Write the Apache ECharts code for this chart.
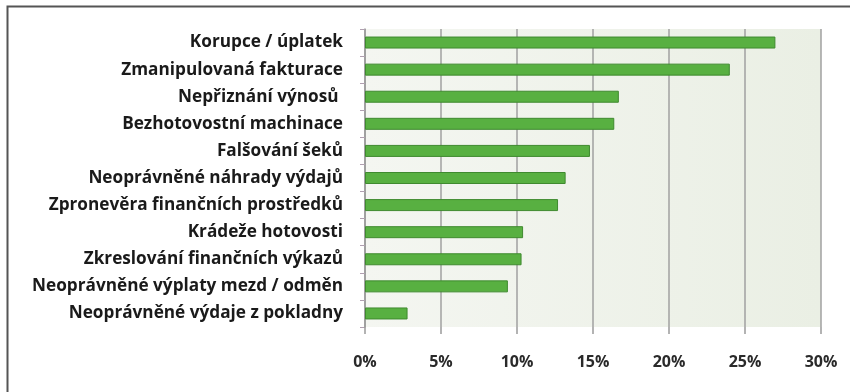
<!DOCTYPE html>
<html><head><meta charset="utf-8">
<script src="https://cdn.jsdelivr.net/npm/echarts@6/dist/echarts.min.js"></script>
<style>html,body{margin:0;padding:0;background:#fff}#c{width:850px;height:392px}</style>
</head><body><div id="c"></div>
<script>
const categories = [
  "Korupce / úplatek",
  "Zmanipulovaná fakturace",
  "Nepřiznání výnosů ",
  "Bezhotovostní machinace",
  "Falšování šeků",
  "Neoprávněné náhrady výdajů",
  "Zpronevěra finančních prostředků",
  "Krádeže hotovosti",
  "Zkreslování finančních výkazů",
  "Neoprávněné výplaty mezd / odměn",
  "Neoprávněné výdaje z pokladny"
];
const values = [27.0, 24.0, 16.7, 16.4, 14.8, 13.2, 12.7, 10.4, 10.3, 9.4, 2.8];
const tickLabels = ["0%", "5%", "10%", "15%", "20%", "25%", "30%"];

const chart = echarts.init(document.getElementById('c'), null, {renderer: 'canvas'});
const font = '"Open Sans", Lato, sans-serif';
chart.setOption({
  animation: false,
  backgroundColor: '#fff',
  grid: {left: 365, right: 29, top: 29, bottom: 65, containLabel: false,
    show: true, backgroundColor: {type: 'linear', x: 0, y: 0, x2: 1, y2: 0,
      colorStops: [{offset: 0, color: '#f4f6f1'}, {offset: 1, color: '#eaefe4'}]},
    borderWidth: 0},
  xAxis: {
    type: 'value', min: 0, max: 30, interval: 5,
    axisLine: {show: false},
    axisTick: {show: true, length: 7, lineStyle: {color: '#9a9a9a', width: 1.5}},
    splitLine: {show: true, lineStyle: {color: '#a0a0a0', width: 1.5}},
    axisLabel: {margin: 27, color: '#2a2a2a', fontFamily: font, fontWeight: 'bold', fontSize: 16,
      formatter: function (v) { return tickLabels[Math.round(v / 5)]; }}
  },
  yAxis: {
    type: 'category', data: categories, inverse: true,
    axisLine: {show: true, lineStyle: {color: '#9a9a9a', width: 1.5}},
    axisTick: {show: true, length: 5, lineStyle: {color: '#b0a0b0'}},
    axisLabel: {margin: 22, color: '#1a1a1a', fontFamily: font, fontWeight: 'bold', fontSize: 17.2}
  },
  series: [{
    type: 'bar', data: values, barWidth: 12,
    itemStyle: {color: '#58b041', borderColor: '#3f8a2f', borderWidth: 1}
  }],
  graphic: [{
    type: 'polyline', silent: true,
    shape: {points: [[7.5, 392], [7.5, 6.5], [850, 6.5]]},
    style: {stroke: '#555', lineWidth: 2, fill: null}
  }]
});
</script></body></html>
